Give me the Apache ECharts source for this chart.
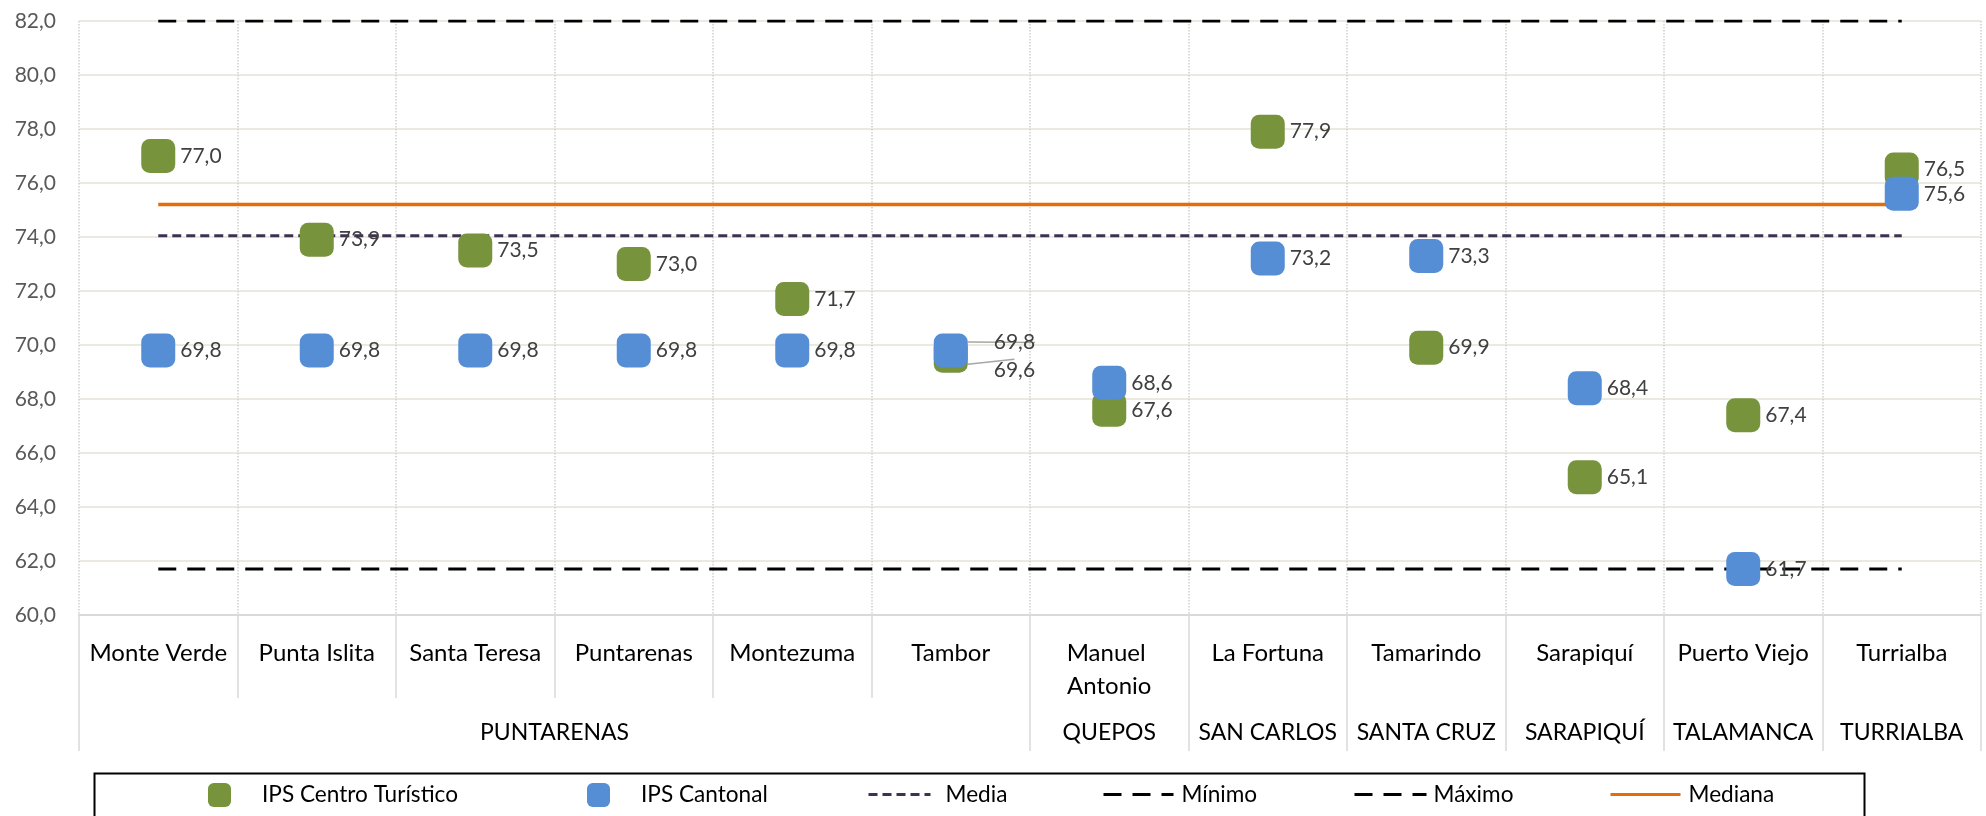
<!DOCTYPE html>
<html>
<head>
<meta charset="utf-8">
<script src="https://cdn.jsdelivr.net/npm/echarts@6/dist/echarts.min.js"></script>
<style>
html,body{margin:0;padding:0;background:#fff;}
#chart{width:1986px;height:816px;}
</style>
</head>
<body>
<div id="chart"></div>
<script>
const categories = ['Monte Verde','Punta Islita','Santa Teresa','Puntarenas','Montezuma','Tambor','Manuel Antonio','La Fortuna','Tamarindo','Sarapiquí','Puerto Viejo','Turrialba'];
const groupNames = ['PUNTARENAS','QUEPOS','SAN CARLOS','SANTA CRUZ','SARAPIQUÍ','TALAMANCA','TURRIALBA'];
const groupSizes = [6,1,1,1,1,1,1];
const ipsCentroTuristico = [77.0,73.9,73.5,73.0,71.7,69.6,67.6,77.9,69.9,65.1,67.4,76.5];
const ipsCantonal = [69.8,69.8,69.8,69.8,69.8,69.8,68.6,73.2,73.3,68.4,61.7,75.6];
const mediaValue = 74.05;
const minimoValue = 61.7;
const maximoValue = 82.0;
const medianaValue = 75.2;
const yMin = 60, yMax = 82, yInterval = 2;

const FONT = 'Lato';
const fmt = v => Number(v).toFixed(1).replace('.', ',');

const groupBounds = [0];
groupSizes.forEach(s => groupBounds.push(groupBounds[groupBounds.length-1] + s));
const groupCenters = groupSizes.map((s,i) => groupBounds[i] + s/2);

const leaderIdx = 5; // Tambor: labels moved with leader lines
function scatterData(arr){
  return arr.map((v,i) => i === leaderIdx ? {value: v, labelLine: {show: true}} : v);
}
function refLine(v){
  return [[categories[0], v], [categories[categories.length-1], v]];
}

const chart = echarts.init(document.getElementById('chart'));
const legendText = {fontFamily: FONT, fontSize: 22.6, color: '#000'};
function symLegend(left, name){
  return {top: 783, left: left, padding: 0, itemWidth: 23, itemHeight: 24,
    data: [{name: name, icon: 'roundRect'}],
    textStyle: Object.assign({}, legendText, {padding: [0,0,0,26]})};
}
function lineLegend(left, width, name, color, dash, padLeft){
  return {top: 783, left: left, padding: 0, itemWidth: width, itemHeight: 24,
    data: [name],
    itemStyle: {opacity: 0, color: 'rgba(0,0,0,0)', borderWidth: 0},
    lineStyle: {color: color, width: 3, type: dash},
    textStyle: Object.assign({}, legendText, {padding: [0,0,0,padLeft]})};
}
chart.setOption({
  animation: false,
  textStyle: {fontFamily: FONT},
  grid: {left: 79, right: 5, top: 21, bottom: 201, containLabel: false},
  xAxis: [{
    type: 'category',
    data: categories,
    boundaryGap: true,
    axisLine: {show: true, lineStyle: {color: '#d9d9d9', width: 2}},
    axisTick: {show: true, interval: 0, length: 83, lineStyle: {color: '#d9d9d9', width: 1.5}},
    axisLabel: {interval: 0, fontSize: 24, color: '#000', margin: 22, width: 152, overflow: 'break', lineHeight: 33, fontFamily: FONT},
    splitLine: {show: true, interval: 0, lineStyle: {color: '#cfcfcf', type: 'dotted', width: 1.5}}
  }, {
    type: 'value',
    position: 'bottom',
    min: 0, max: categories.length,
    axisLine: {show: false},
    splitLine: {show: false},
    axisTick: {show: true, customValues: groupBounds, length: 136, lineStyle: {color: '#d9d9d9', width: 1.5}},
    axisLabel: {
      customValues: groupCenters,
      margin: 106, fontSize: 23, color: '#000', fontFamily: FONT,
      formatter: v => { const i = groupCenters.indexOf(v); return i >= 0 ? groupNames[i] : ''; }
    }
  }],
  yAxis: {
    type: 'value',
    min: yMin, max: yMax, interval: yInterval,
    axisLine: {show: false},
    axisTick: {show: false},
    axisLabel: {formatter: fmt, fontSize: 21, color: '#595959', margin: 23, fontFamily: FONT},
    splitLine: {show: true, lineStyle: {color: '#ECEAE0', width: 2}}
  },
  legend: [
    symLegend(208, 'IPS Centro Turístico'),
    symLegend(587, 'IPS Cantonal'),
    lineLegend(867, 62, 'Media', '#403152', [9, 5], 10),
    lineLegend(1102, 70, 'Mínimo', '#000', [18, 11], 3),
    lineLegend(1353, 72, 'Máximo', '#000', [18, 11], 2),
    lineLegend(1609, 70, 'Mediana', '#E46C0A', 'solid', 3)
  ],
  graphic: [{
    type: 'rect', left: 92, top: 771, z: -1,
    shape: {width: 1770, height: 80},
    style: {fill: 'none', stroke: '#000', lineWidth: 2}
  }],
  series: [
    {name: 'Máximo', type: 'line', symbol: 'none', data: refLine(maximoValue), z: 2,
     lineStyle: {color: '#000', width: 3, type: [18, 11]}, itemStyle: {color: '#000'}},
    {name: 'Mínimo', type: 'line', symbol: 'none', data: refLine(minimoValue), z: 2,
     lineStyle: {color: '#000', width: 3, type: [18, 11]}, itemStyle: {color: '#000'}},
    {name: 'Media', type: 'line', symbol: 'none', data: refLine(mediaValue), z: 2,
     lineStyle: {color: '#403152', width: 3, type: [9, 5]}, itemStyle: {color: '#403152'}},
    {name: 'Mediana', type: 'line', symbol: 'none', data: refLine(medianaValue), z: 2,
     lineStyle: {color: '#E46C0A', width: 3.5}, itemStyle: {color: '#E46C0A'}},
    {name: 'IPS Centro Turístico', type: 'scatter', symbol: 'roundRect', symbolSize: 34, z: 3,
     data: scatterData(ipsCentroTuristico),
     itemStyle: {color: '#77933C', opacity: 1},
     label: {show: true, position: 'right', distance: 5, formatter: p => fmt(p.value), fontSize: 21, color: '#404040', fontFamily: FONT},
     labelLine: {show: false, lineStyle: {color: '#a6a6a6', width: 1.5}},
     labelLayout: p => p.dataIndex === leaderIdx ? {dx: 21, dy: 14} : {}
    },
    {name: 'IPS Cantonal', type: 'scatter', symbol: 'roundRect', symbolSize: 34, z: 4,
     data: scatterData(ipsCantonal),
     itemStyle: {color: '#558ED5', opacity: 1},
     label: {show: true, position: 'right', distance: 5, formatter: p => fmt(p.value), fontSize: 21, color: '#404040', fontFamily: FONT},
     labelLine: {show: false, lineStyle: {color: '#a6a6a6', width: 1.5}},
     labelLayout: p => p.dataIndex === leaderIdx ? {dx: 21, dy: -8} : {}
    }
  ]
});
</script>
</body>
</html>
